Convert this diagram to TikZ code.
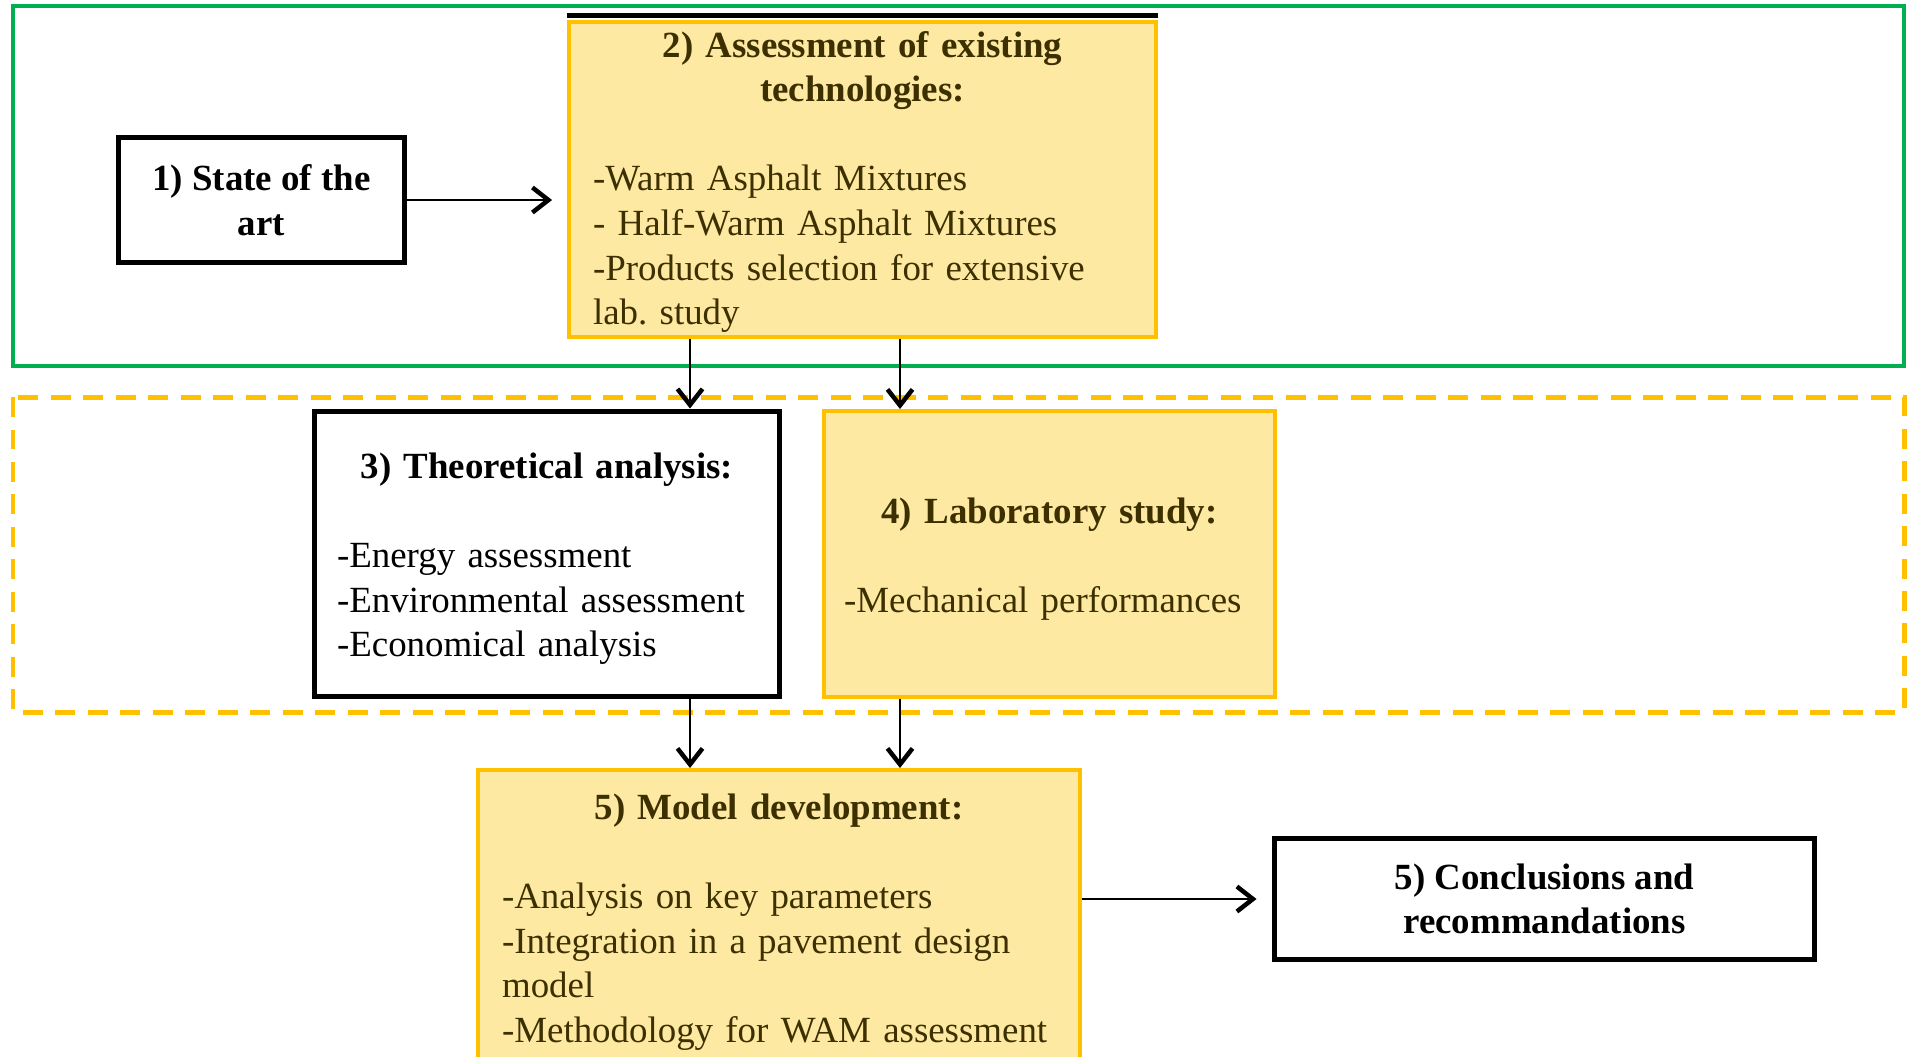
\documentclass[tikz,border=0pt]{standalone}
\usepackage{fontspec}
\setmainfont{Liberation Serif}
\usetikzlibrary{arrows.meta}

\definecolor{gold}{HTML}{FFC000}
\definecolor{paleyellow}{HTML}{FDE9A2}
\definecolor{olive}{HTML}{3D3000}
\definecolor{framegreen}{HTML}{00B050}

\newcommand{\boxfont}{\fontsize{21pt}{25.4pt}\selectfont\frenchspacing}

\begin{document}
\begin{tikzpicture}[x=0.02cm,y=-0.02cm,
    wbox/.style={draw=black, line width=0.1cm, fill=white, font=\boxfont, inner sep=0pt},
    ybox/.style={draw=gold, line width=0.08cm, fill=paleyellow, text=olive, font=\boxfont, align=left, inner xsep=0.48cm, inner ysep=0pt},
    arr/.style={line width=0.055cm, -{Straight Barb[length=0.32cm, width=0.5cm, line width=0.09cm]}}]
    \useasboundingbox (0,0) rectangle (1908,1056);

    % phase frames
    \draw[framegreen, line width=0.09cm] (13,6) rectangle (1904,366);
    \draw[gold, line width=0.1cm, dash pattern=on 0.4cm off 0.25cm] (13,397) rectangle (1904,712);

    \node[wbox, align=center, font=\boxfont\bfseries, minimum width=5.74cm, minimum height=2.52cm] (sota) at (261.5,200) {1) State of the\\art};

    \node[ybox, text width=10.78cm, text height=17.5pt, minimum height=6.3cm] (tech) at (862.5,179.5)
        {{\centering\bfseries 2) Assessment of existing\\ technologies:\par}
         \vspace{25.4pt}
         -Warm Asphalt Mixtures\\
         - Half-Warm Asphalt Mixtures\\
         -Products selection for extensive\\
         lab. study};
    \draw[line width=0.1cm] ([yshift=0.1cm]tech.north west) -- ([yshift=0.1cm]tech.north east);

    \node[wbox, align=left, inner xsep=0.46cm, text width=8.4cm, text height=20pt, minimum height=5.72cm] (theory) at (547,554)
        {{\centering\bfseries 3) Theoretical analysis:\par}
         \vspace{25.4pt}
         -Energy assessment\\
         -Environmental assessment\\
         -Economical analysis};

    \node[ybox, inner xsep=0.4cm, text width=8.22cm, text height=20pt, minimum height=5.72cm] (lab) at (1049.5,554)
        {{\centering\bfseries 4) Laboratory study:\par}
         \vspace{25.4pt}
         -Mechanical performances};

    \node[ybox, text width=11.08cm, text height=17pt, minimum height=6cm] (model) at (779,920)
        {{\centering\bfseries 5) Model development:\par}
         \vspace{25.4pt}
         -Analysis on key parameters\\
         -Integration in a pavement design\\
         model\\
         -Methodology for WAM assessment};

    \node[wbox, align=center, font=\boxfont\bfseries, minimum width=10.82cm, minimum height=2.42cm] (concl) at (1544.5,899) {5) Conclusions and\\recommandations};

    % flow
    \coordinate (ca) at (690,0);
    \coordinate (cb) at (900,0);
    \draw[arr, shorten >=0.3cm] (sota.east) -- (sota.east -| tech.west);
    \draw[arr] (tech.south -| ca) -- (theory.north -| ca);
    \draw[arr] (tech.south -| cb) -- (lab.north -| cb);
    \draw[arr] (theory.south -| ca) -- (model.north -| ca);
    \draw[arr] (lab.south -| cb) -- (model.north -| cb);
    \draw[arr, shorten >=0.3cm] (model.east |- concl.west) -- (concl.west);
\end{tikzpicture}
\end{document}
